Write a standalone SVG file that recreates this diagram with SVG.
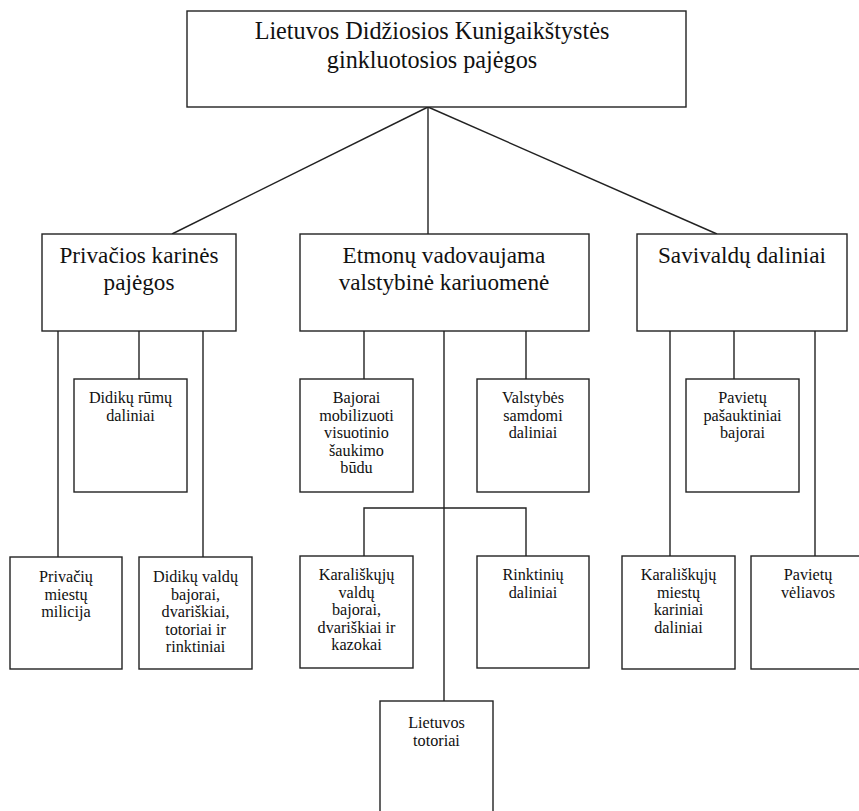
<svg xmlns="http://www.w3.org/2000/svg" width="859" height="811" viewBox="0 0 859 811">
<style>
  .box { fill: #ffffff; stroke: #222222; stroke-width: 1.4; }
  .ln { fill: none; stroke: #222222; stroke-width: 1.4; }
  text { fill: #111111; text-anchor: middle; }
  .big { font-size: 24.2px; }
  .mid { font-size: 23.2px; }
  .sm { font-size: 16.2px; }
</style>
<rect width="859" height="811" fill="#ffffff"/>
<g id="connectors">
  <line class="ln" x1="428" y1="107" x2="172" y2="234"/>
  <line class="ln" x1="428" y1="107" x2="428" y2="234"/>
  <line class="ln" x1="428" y1="107" x2="717" y2="234"/>
  <line class="ln" x1="58" y1="331" x2="58" y2="557"/>
  <line class="ln" x1="139" y1="331" x2="139" y2="379"/>
  <line class="ln" x1="203" y1="331" x2="203" y2="557"/>
  <line class="ln" x1="364" y1="331" x2="364" y2="379"/>
  <line class="ln" x1="526" y1="331" x2="526" y2="379"/>
  <line class="ln" x1="444" y1="331" x2="444" y2="701"/>
  <polyline class="ln" points="364,556 364,508 526,508 526,556"/>
  <line class="ln" x1="670" y1="331" x2="670" y2="556"/>
  <line class="ln" x1="734" y1="331" x2="734" y2="379"/>
  <line class="ln" x1="815" y1="331" x2="815" y2="556"/>
</g>
<g font-family="Liberation Serif, Tinos, Times New Roman, DejaVu Serif, serif">
<g id="root">
  <rect class="box" x="187" y="11" width="499" height="96"/>
  <text class="big" x="432" y="39">Lietuvos Didžiosios Kunigaikštystės</text>
  <text class="big" x="432" y="68">ginkluotosios pajėgos</text>
</g>
<g id="private">
  <rect class="box" x="42" y="234" width="194" height="97"/>
  <text class="mid" x="139" y="263">Privačios karinės</text>
  <text class="mid" x="139" y="290">pajėgos</text>
</g>
<g id="state">
  <rect class="box" x="300" y="234" width="289" height="97"/>
  <text class="mid" x="444" y="263">Etmonų vadovaujama</text>
  <text class="mid" x="444" y="290">valstybinė kariuomenė</text>
</g>
<g id="selfgov">
  <rect class="box" x="637" y="234" width="210" height="97"/>
  <text class="mid" x="742" y="263">Savivaldų daliniai</text>
</g>
<g id="didiku-rumu">
  <rect class="box" x="74" y="379" width="113" height="113"/>
  <text class="sm" x="130.5" y="403">Didikų rūmų</text>
  <text class="sm" x="130.5" y="420.5">daliniai</text>
</g>
<g id="privaciu-miestu">
  <rect class="box" x="10" y="557" width="112" height="112"/>
  <text class="sm" x="66" y="582">Privačių</text>
  <text class="sm" x="66" y="599.5">miestų</text>
  <text class="sm" x="66" y="617">milicija</text>
</g>
<g id="didiku-valdu">
  <rect class="box" x="139" y="557" width="113" height="112"/>
  <text class="sm" x="195.5" y="582">Didikų valdų</text>
  <text class="sm" x="195.5" y="599.5">bajorai,</text>
  <text class="sm" x="195.5" y="617">dvariškiai,</text>
  <text class="sm" x="195.5" y="634.5">totoriai ir</text>
  <text class="sm" x="195.5" y="652">rinktiniai</text>
</g>
<g id="bajorai-mob">
  <rect class="box" x="300" y="379" width="113" height="113"/>
  <text class="sm" x="356.5" y="403">Bajorai</text>
  <text class="sm" x="356.5" y="420.5">mobilizuoti</text>
  <text class="sm" x="356.5" y="438">visuotinio</text>
  <text class="sm" x="356.5" y="455.5">šaukimo</text>
  <text class="sm" x="356.5" y="473">būdu</text>
</g>
<g id="valstybes-samdomi">
  <rect class="box" x="477" y="379" width="112" height="113"/>
  <text class="sm" x="533" y="403">Valstybės</text>
  <text class="sm" x="533" y="420.5">samdomi</text>
  <text class="sm" x="533" y="438">daliniai</text>
</g>
<g id="karaliskuju-valdu">
  <rect class="box" x="300" y="556" width="113" height="112"/>
  <text class="sm" x="356.5" y="580">Karališkųjų</text>
  <text class="sm" x="356.5" y="597.5">valdų</text>
  <text class="sm" x="356.5" y="615">bajorai,</text>
  <text class="sm" x="356.5" y="632.5">dvariškiai ir</text>
  <text class="sm" x="356.5" y="650">kazokai</text>
</g>
<g id="rinktiniu">
  <rect class="box" x="477" y="556" width="112" height="112"/>
  <text class="sm" x="533" y="580">Rinktinių</text>
  <text class="sm" x="533" y="597.5">daliniai</text>
</g>
<g id="lietuvos-totoriai">
  <rect class="box" x="380" y="701" width="113" height="130"/>
  <text class="sm" x="436.5" y="728">Lietuvos</text>
  <text class="sm" x="436.5" y="745.5">totoriai</text>
</g>
<g id="paviet-pasauktiniai">
  <rect class="box" x="686" y="379" width="113" height="113"/>
  <text class="sm" x="742.5" y="403">Pavietų</text>
  <text class="sm" x="742.5" y="420.5">pašauktiniai</text>
  <text class="sm" x="742.5" y="438">bajorai</text>
</g>
<g id="karaliskuju-miestu">
  <rect class="box" x="622" y="556" width="113" height="113"/>
  <text class="sm" x="678.5" y="580">Karališkųjų</text>
  <text class="sm" x="678.5" y="597.5">miestų</text>
  <text class="sm" x="678.5" y="615">kariniai</text>
  <text class="sm" x="678.5" y="632.5">daliniai</text>
</g>
<g id="pavietu-veliavos">
  <rect class="box" x="751" y="556" width="114" height="113"/>
  <text class="sm" x="808" y="580">Pavietų</text>
  <text class="sm" x="808" y="597.5">vėliavos</text>
</g>
</g>
</svg>
